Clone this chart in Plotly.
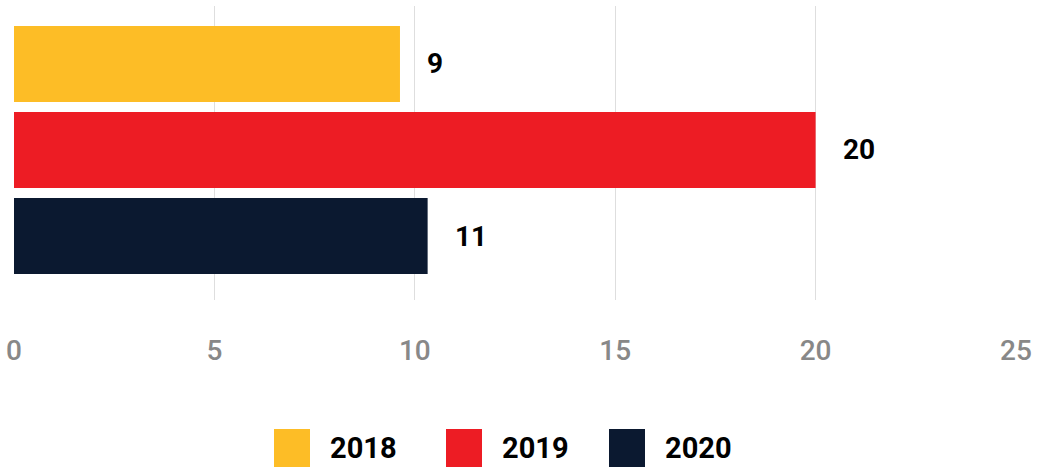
import plotly.graph_objects as go

series = ["2018", "2019", "2020"]
values = [9.63, 20.0, 10.32]
labels = ["9", "20", "11"]
colors = ["#FDBD26", "#ED1C24", "#0B1930"]
x_ticks = [0, 5, 10, 15, 20, 25]

W, H = 1039, 468
ML, MR, MT, MB = 14, 23, 6, 168
pw, ph = W - ML - MR, H - MT - MB

fig = go.Figure()
for i, (name, v, c) in enumerate(zip(series, values, colors)):
    fig.add_trace(go.Bar(
        x=[v], y=[i], orientation="h", name=name,
        marker=dict(color=c, line=dict(width=0)),
        width=0.884, showlegend=False, hoverinfo="x+name",
    ))
    fig.add_annotation(
        x=v, y=i, xref="x", yref="y", text=labels[i], showarrow=False,
        xanchor="left", yanchor="middle", xshift=25,
        font=dict(family="Roboto", size=28, color="#000000", weight="bold"),
    )

# manual legend (large square swatches)
leg_sq_x = [274, 446, 609]
sq_w, sq_top, sq_bot = 36, 429, 467
def px2x(p):
    return (p - ML) / pw
def py2y(p):
    return (MT + ph - p) / ph
for name, c, sx in zip(series, colors, leg_sq_x):
    fig.add_shape(type="rect", xref="paper", yref="paper",
                  x0=px2x(sx), x1=px2x(sx + sq_w), y0=py2y(sq_bot), y1=py2y(sq_top),
                  fillcolor=c, line=dict(width=0))
    fig.add_annotation(xref="paper", yref="paper", x=px2x(sx + sq_w + 18),
                       y=py2y((sq_top + sq_bot) / 2), text=name, showarrow=False,
                       xanchor="left", yanchor="middle",
                       font=dict(family="Roboto", size=29, color="#000000", weight="bold"))

fig.update_layout(
    width=W, height=H,
    margin=dict(l=ML, r=MR, t=MT, b=MB, autoexpand=False),
    paper_bgcolor="white", plot_bgcolor="white",
    barmode="overlay", showlegend=False,
    xaxis=dict(range=[0, 25], tickvals=x_ticks, showgrid=True, gridcolor="#DEDEDE",
               gridwidth=1.2, zeroline=False, showline=False, ticks="",
               tickfont=dict(family="Roboto", size=28, color="#888888", weight=500),
               ticklabelstandoff=31),
    yaxis=dict(range=[2.744, -0.674], showticklabels=False, showgrid=False,
               zeroline=False, showline=False, ticks=""),
)
fig.write_html("out.html", config={"displayModeBar": False},
               post_script="document.body.style.margin='0px';")
